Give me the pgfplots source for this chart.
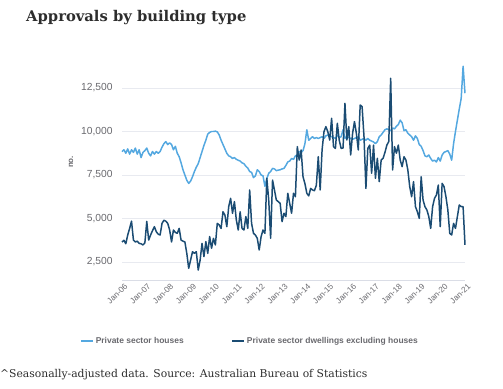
\documentclass[border=0pt]{standalone}
\usepackage{fontspec}
\usepackage{pgfplots}
\usepackage{pgfplotstable}
\pgfplotsset{compat=1.18}
\setmainfont{Liberation Sans}
\newfontfamily\serifbold{DejaVu Serif}[BoldFont={DejaVu Serif Bold}]
\definecolor{lightline}{RGB}{84,168,224}
\definecolor{darkline}{RGB}{27,76,115}
\definecolor{gridc}{RGB}{232,234,240}
\definecolor{axisc}{RGB}{218,221,230}
\definecolor{tickc}{RGB}{105,105,110}
\definecolor{titlec}{RGB}{45,45,45}

\pgfplotstableread{
m v
0 8840
1 8950
2 8750
3 9000
4 8700
5 8950
6 8800
7 9050
8 8700
9 8950
10 8500
11 8800
12 8900
13 9050
14 8750
15 8600
16 8850
17 8700
18 8850
19 8750
20 8850
21 9100
22 9300
23 9420
24 9250
25 9350
26 9250
27 8950
28 9150
29 8750
30 8550
31 8200
32 7800
33 7500
34 7200
35 7020
36 7150
37 7400
38 7700
39 7950
40 8150
41 8500
42 8850
43 9200
44 9500
45 9850
46 9950
47 10000
48 10000
49 10020
50 9980
51 9800
52 9500
53 9250
54 9000
55 8750
56 8600
57 8550
58 8450
59 8500
60 8400
61 8350
62 8300
63 8200
64 8150
65 8000
66 7900
67 7700
68 7650
69 7350
70 7450
71 7800
72 7700
73 7500
74 7450
75 6850
76 7300
77 7600
78 7700
79 7880
80 7850
81 7750
82 7780
83 7800
84 7850
85 7880
86 8050
87 8250
88 8300
89 8450
90 8400
91 8600
92 8650
93 8850
94 8800
95 8900
96 9300
97 10100
98 9500
99 9600
100 9700
101 9600
102 9650
103 9600
104 9650
105 9700
106 9600
107 9750
108 9800
109 9750
110 9700
111 9650
112 9600
113 9800
114 9650
115 9700
116 10100
117 9600
118 9700
119 9650
120 9600
121 9550
122 9600
123 9650
124 9700
125 9500
126 9550
127 9600
128 9500
129 9600
130 9500
131 9450
132 9400
133 9300
134 9420
135 9700
136 9800
137 9950
138 10100
139 10150
140 10100
141 10050
142 10200
143 10150
144 10300
145 10400
146 10650
147 10500
148 10050
149 10100
150 9900
151 9800
152 9700
153 9500
154 9750
155 9600
156 9250
157 9150
158 8900
159 8600
160 8550
161 8650
162 8450
163 8300
164 8350
165 8250
166 8500
167 8300
168 8650
169 8800
170 8850
171 8900
172 8700
173 8350
174 9300
175 10000
176 10650
177 11300
178 11900
179 13750
180 12200
}\houses

\pgfplotstableread{
m v
0 3650
1 3750
2 3550
3 4050
4 4430
5 4850
6 3760
7 3650
8 3700
9 3570
10 3550
11 3480
12 3600
13 4830
14 3760
15 4050
16 4300
17 4530
18 4240
19 4100
20 4050
21 4720
22 4900
23 4850
24 4720
25 4340
26 3650
27 4340
28 4200
29 4150
30 4430
31 3760
32 3700
33 3650
34 3000
35 2140
36 2610
37 3090
38 3000
39 3090
40 2040
41 2610
42 3570
43 2810
44 3670
45 3000
46 3960
47 3290
48 3860
49 3480
50 4720
51 4630
52 4430
53 5390
54 5200
55 4530
56 5680
57 6160
58 5300
59 5970
60 4910
61 4340
62 5390
63 4430
64 4340
65 5110
66 4430
67 6640
68 4720
69 4150
70 4050
71 3860
72 3190
73 3960
74 4340
75 4150
76 7310
77 6060
78 3860
79 7210
80 6640
81 6060
82 5970
83 5870
84 4820
85 5300
86 5110
87 6450
88 5870
89 5300
90 6450
91 6250
92 9130
93 8360
94 8940
95 7400
96 7000
97 6450
98 6300
99 6730
100 6640
101 6600
102 6920
103 8550
104 6640
105 8940
106 9990
107 10280
108 9990
109 9510
110 10760
111 9130
112 9030
113 10470
114 9500
115 9030
116 9050
117 11620
118 9510
119 10280
120 8650
121 9890
122 10570
123 9890
124 8940
125 11520
126 11430
127 9700
128 6730
129 9030
130 9220
131 7600
132 9220
133 7310
134 8460
135 7120
136 8360
137 8460
138 8800
139 9220
140 9420
141 13060
142 7790
143 9130
144 8750
145 9220
146 8360
147 7980
148 8550
149 8360
150 7790
151 6830
152 6250
153 7120
154 5680
155 5390
156 5010
157 7400
158 6060
159 5680
160 5490
161 5110
162 4430
163 5680
164 6160
165 6350
166 6920
167 4530
168 7020
169 6830
170 6250
171 5490
172 4150
173 4050
174 4720
175 4430
176 5110
177 5780
178 5680
179 5680
180 3480
}\dwellings

\begin{document}
\begin{tikzpicture}
\path[use as bounding box] (0,0) rectangle (503bp,389bp);
\node[anchor=base west, inner sep=0, text=titlec, font=\serifbold\bfseries\fontsize{14.8}{18}\selectfont] at (26bp,367bp) {Approvals by building type};
\node[anchor=base west, inner sep=0, text=titlec, font=\serifbold\fontsize{10.8}{13}\selectfont] at (0bp,12bp) {\^{}Seasonally-adjusted data. Source: Australian Bureau of Statistics};
\node[rotate=90, inner sep=0, text=tickc, font=\bfseries\fontsize{8}{9}\selectfont] at (71bp,227bp) {no.};
\begin{axis}[
  at={(122bp,109bp)}, anchor=south west,
  scale only axis, width=343bp, height=218.1bp,
  xmin=0, xmax=180, ymin=1466, ymax=14000,
  axis line style={draw=none},
  major tick length=0pt,
  ymajorgrids, grid style={gridc, line width=0.8pt},
  ytick={2500,5000,7500,10000,12500},
  scaled y ticks=false,
  /pgf/number format/.cd, fixed, 1000 sep={,}, assume math mode=true, /pgfplots/.cd,
  yticklabel style={font=\fontsize{10.3}{12}\selectfont, text=tickc, xshift=-6bp},
  xtick={0,12,...,180},
  xticklabels={Jan-06,Jan-07,Jan-08,Jan-09,Jan-10,Jan-11,Jan-12,Jan-13,Jan-14,Jan-15,Jan-16,Jan-17,Jan-18,Jan-19,Jan-20,Jan-21},
  xticklabel style={font=\fontsize{8.2}{9}\selectfont, text=tickc, rotate=45, anchor=north east, inner sep=0.5pt, yshift=-3bp},
  legend style={at={(-0.13,-0.28)}, anchor=west, draw=none, fill=none,
    font=\bfseries\fontsize{8.5}{10}\selectfont, text=tickc,
    /tikz/every even column/.append style={column sep=46bp}},
  legend columns=2,
  legend image code/.code={\draw[#1, line width=1.2pt] (0bp,0bp) -- (12bp,0bp);},
  clip=false,
]
\addplot[lightline, line width=1.5pt, line join=round] table[x=m, y=v] {\houses};
\addlegendentry{Private sector houses}
\addplot[darkline, line width=1.5pt, line join=round] table[x=m, y=v] {\dwellings};
\addlegendentry{Private sector dwellings excluding houses}
\draw[axisc, line width=0.8pt] (rel axis cs:0,0) -- (rel axis cs:1,0);
\end{axis}
\end{tikzpicture}
\end{document}
